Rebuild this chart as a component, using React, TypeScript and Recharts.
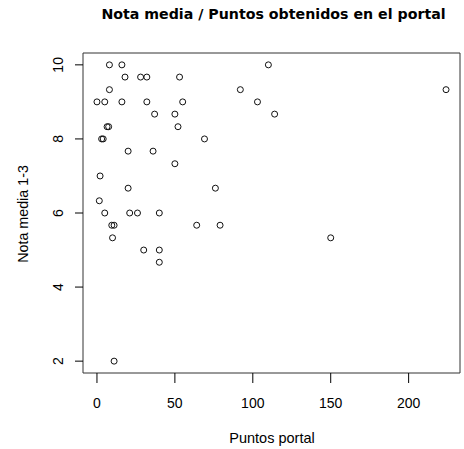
/**
 * Nota media / Puntos obtenidos en el portal - scatter estilo R base
 */
import { ScatterChart, Scatter, XAxis, YAxis, ReferenceArea } from 'recharts';

const FONT = '"Liberation Sans", Arial, Helvetica, sans-serif';
const FONT_TITULO = '"DejaVu Sans", "Liberation Sans", sans-serif';

const puntosPortal = [
  8, 16, 110,
  18, 28, 32, 53,
  8, 92, 224,
  0, 5, 16, 32, 55, 103,
  37, 50, 114,
  6.5, 7.5, 52,
  3, 4, 69,
  20, 36,
  50,
  2,
  20, 76,
  1.5,
  5, 21, 26, 40,
  9.5, 11, 64, 79,
  10, 150,
  30, 40,
  40,
  11,
];

const notaMedia = [
  10, 10, 10,
  9.67, 9.67, 9.67, 9.67,
  9.33, 9.33, 9.33,
  9, 9, 9, 9, 9, 9,
  8.67, 8.67, 8.67,
  8.33, 8.33, 8.33,
  8, 8, 8,
  7.67, 7.67,
  7.33,
  7,
  6.67, 6.67,
  6.33,
  6, 6, 6, 6,
  5.67, 5.67, 5.67, 5.67,
  5.33, 5.33,
  5, 5,
  4.67,
  2,
];

const xTicks = [0, 50, 100, 150, 200];
const yTicks = [2, 4, 6, 8, 10];

const titulo = 'Nota media / Puntos obtenidos en el portal';
const etiquetaX = 'Puntos portal';
const etiquetaY = 'Nota media 1-3';

const data = puntosPortal.map((x, i) => ({ x, y: notaMedia[i] }));

// R extiende el rango un 4% por cada lado
const xMin = 0, xMax = 224, yMin = 2, yMax = 10;
const xPad = (xMax - xMin) * 0.04;
const yPad = (yMax - yMin) * 0.04;

const XTick = ({ x, y, payload }: any) => (
  <text x={x} y={y + 23} textAnchor="middle" fontSize={14} fill="#000" fontFamily={FONT}>
    {payload.value}
  </text>
);

const YTick = ({ x, y, payload }: any) => (
  <text
    x={x - 10}
    y={y}
    textAnchor="middle"
    fontSize={14}
    fill="#000"
    fontFamily={FONT}
    transform={`rotate(-90, ${x - 10}, ${y})`}
  >
    {payload.value}
  </text>
);

const Punto = (props: any) => (
  <circle cx={props.cx} cy={props.cy} r={3} fill="none" stroke="#111" strokeWidth={1} />
);

export default function App() {
  return (
    <div style={{ position: 'absolute', left: 0, top: 0, background: '#fff' }}>
      <ScatterChart width={464} height={449} margin={{ top: 53, right: 4, bottom: 0, left: 0 }}>
        <XAxis
          type="number"
          dataKey="x"
          domain={[xMin - xPad, xMax + xPad]}
          ticks={xTicks}
          allowDataOverflow
          axisLine={false}
          tickSize={10}
          tickLine={{ stroke: '#000' }}
          tick={<XTick />}
          height={76}
          label={{
            content: () => (
              <text x={272} y={442.7} textAnchor="middle" fontSize={14.5} fill="#000" fontFamily={FONT}>
                {etiquetaX}
              </text>
            ),
          }}
        />
        <YAxis
          type="number"
          dataKey="y"
          domain={[yMin - yPad, yMax + yPad]}
          ticks={yTicks}
          allowDataOverflow
          axisLine={false}
          tickSize={8}
          tickLine={{ stroke: '#000' }}
          tick={<YTick />}
          width={83}
          label={{
            content: () => (
              <text
                x={27.8}
                y={214}
                textAnchor="middle"
                fontSize={14.3}
                fill="#000"
                fontFamily={FONT}
                transform="rotate(-90, 27.8, 214)"
              >
                {etiquetaY}
              </text>
            ),
          }}
        />
        <ReferenceArea
          x1={xMin - xPad}
          x2={xMax + xPad}
          y1={yMin - yPad}
          y2={yMax + yPad}
          fill="none"
          stroke="#333"
          strokeWidth={1}
          fillOpacity={0}
          label={{
            content: () => (
              <text x={273.5} y={19.3} textAnchor="middle" fontSize={14.2} fontWeight="bold" fill="#000" fontFamily={FONT_TITULO}>
                {titulo}
              </text>
            ),
          }}
        />
        <Scatter data={data} shape={<Punto />} isAnimationActive={false} />
      </ScatterChart>
    </div>
  );
}
